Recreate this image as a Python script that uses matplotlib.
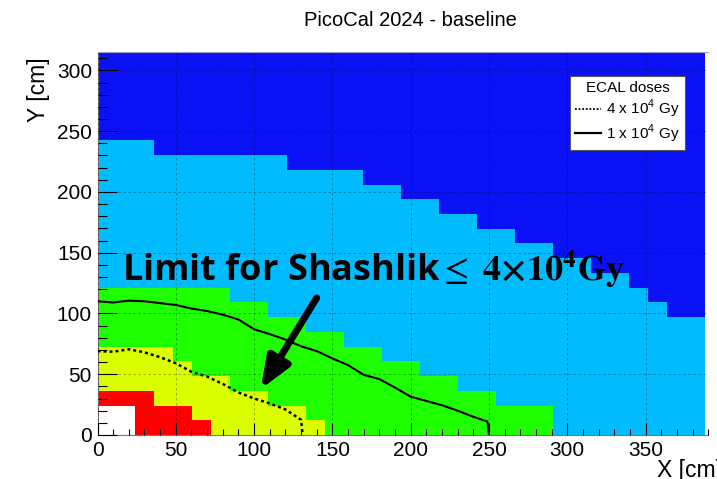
import numpy as np
import matplotlib
matplotlib.use("Agg")
import matplotlib.pyplot as plt
from matplotlib.colors import ListedColormap, BoundaryNorm
from matplotlib.lines import Line2D

plt.rcParams['font.family'] = ['Liberation Sans', 'DejaVu Sans']

# module size of the ECAL cells [cm]
cell = 12.12
n_cols, n_rows = 32, 26

# upper edge of every dose zone, per module column (in module units)
white_top  = [2, 2, 0, 0, 0, 0, 0, 0, 0, 0, 0, 0, 0, 0, 0, 0,
              0, 0, 0, 0, 0, 0, 0, 0, 0, 0, 0, 0, 0, 0, 0, 0]
red_top    = [3, 3, 3, 2, 2, 1, 0, 0, 0, 0, 0, 0, 0, 0, 0, 0,
              0, 0, 0, 0, 0, 0, 0, 0, 0, 0, 0, 0, 0, 0, 0, 0]
yellow_top = [6, 6, 6, 6, 5, 4, 4, 3, 3, 2, 2, 1, 0, 0, 0, 0,
              0, 0, 0, 0, 0, 0, 0, 0, 0, 0, 0, 0, 0, 0, 0, 0]
green_top  = [10, 10, 10, 10, 10, 10, 10, 9, 9, 8, 8, 7, 7, 6, 6, 5,
              5, 4, 4, 3, 3, 2, 2, 2, 0, 0, 0, 0, 0, 0, 0, 0]
lblue_top  = [20, 20, 20, 19, 19, 19, 19, 19, 19, 19, 18, 18, 18, 18, 17, 17,
              16, 16, 15, 15, 14, 14, 13, 13, 12, 12, 11, 11, 10, 9, 8, 8]
zone_colors = ['#ffffff', '#ff0000', '#dcff00', '#1eff00', '#00bcff', '#0a12f5']

# dose contours [cm]
x_4e4 = [0, 10, 20, 30, 40, 50, 60, 70, 80, 90, 100, 110, 120, 130, 131]
y_4e4 = [69, 68.5, 70.5, 68, 64, 59, 52, 48, 42, 35, 30, 26, 21, 12.5, 0]
x_1e4 = [0, 10, 20, 30, 40, 50, 60, 70, 80, 90, 100, 110, 120, 130, 140,
         150, 160, 170, 180, 190, 200, 210, 220, 230, 240, 249, 250]
y_1e4 = [110, 109, 110.5, 110, 108.5, 107, 104, 102, 99, 95, 87, 83, 78.5, 73, 69,
         63, 57.5, 49.5, 46, 39, 31.5, 28, 24.5, 20, 15, 11, 0]

x_ticks = [0, 50, 100, 150, 200, 250, 300, 350]
y_ticks = [0, 50, 100, 150, 200, 250, 300]

# build the zone map
tops = [white_top, red_top, yellow_top, green_top, lblue_top]
zone = np.full((n_rows, n_cols), len(tops))
for j in range(n_cols):
    for i in range(n_rows):
        for k, t in enumerate(tops):
            if i < t[j]:
                zone[i, j] = k
                break

fig = plt.figure(figsize=(7.17, 4.79), dpi=100)
ax = fig.add_axes([0.136, 0.0919, 0.8517, 0.7996])

xe = np.arange(n_cols + 1) * cell
ye = np.arange(n_rows + 1) * cell
cmap = ListedColormap(zone_colors)
norm = BoundaryNorm(np.arange(-0.5, len(zone_colors) + 0.5), cmap.N)
ax.pcolormesh(xe, ye, zone, cmap=cmap, norm=norm, zorder=1)

ax.plot(x_4e4, y_4e4, color='black', lw=1.8, linestyle=(0, (1.2, 1.2)), zorder=3)
ax.plot(x_1e4, y_1e4, color='black', lw=1.5, zorder=3)

ax.set_xlim(0, 390)
ax.set_ylim(0, n_rows * cell)
ax.set_xticks(x_ticks)
ax.set_yticks(y_ticks)
ax.set_xticks(np.arange(0, 391, 10), minor=True)
ax.set_yticks(np.arange(0, 316, 10), minor=True)
ax.grid(True, which='major', color='black', alpha=0.35, lw=0.6,
        linestyle=(0, (3, 3)), zorder=2)
ax.set_axisbelow(False)
ax.tick_params(axis='x', which='major', direction='in', length=9, width=0.8,
               labelsize=15, pad=4)
ax.tick_params(axis='x', which='minor', direction='in', length=4.3, width=0.8)
ax.tick_params(axis='y', which='major', direction='in', length=13.7, width=0.8,
               labelsize=15, pad=4)
ax.tick_params(axis='y', which='minor', direction='in', length=6.7, width=0.8)
for s in ['left', 'bottom']:
    ax.spines[s].set_color('#777777')
    ax.spines[s].set_linewidth(0.8)
ax.spines['right'].set_visible(False)
ax.spines['top'].set_color('#9aa0c8')
ax.spines['top'].set_linewidth(0.8)

handles = [Line2D([], [], color='black', lw=1.3, linestyle=(0, (1, 1))),
           Line2D([], [], color='black', lw=1.6)]
labels = [r'4 x 10$^{\mathregular{4}}$ Gy', r'1 x 10$^{\mathregular{4}}$ Gy']
leg = ax.legend(handles, labels, title='ECAL doses', loc='upper right',
                bbox_to_anchor=(0.962, 0.937), fontsize=11, title_fontsize=11,
                frameon=True, fancybox=False, framealpha=1, edgecolor='#555555',
                borderpad=0.35, handlelength=1.7, handletextpad=0.3,
                labelspacing=0.15, borderaxespad=0)
leg.get_frame().set_linewidth(0.8)
leg.set_zorder(5)

ax.text(15.5, 127, r'Limit for Shashlik${\leq}\ \mathbf{4{\times}10^{4}Gy}$',
        family='Open Sans', weight='bold', fontsize=26, math_fontfamily='stix',
        ha='left', va='baseline', zorder=6)
ax.annotate('', xy=(104.2, 37.7), xytext=(140, 112.8),
            arrowprops=dict(arrowstyle='-|>,head_length=1.9,head_width=0.75',
                            lw=5, color='black', shrinkA=0, shrinkB=0),
            zorder=6)

fig.text(0.572, 0.958, 'PicoCal 2024 - baseline', fontsize=14.5,
         ha='center', va='center')
fig.text(0.053, 0.881, 'Y [cm]', fontsize=16.5, rotation=90,
         ha='center', va='top')
fig.text(657 / 717, 0.0048, 'X [cm]', fontsize=16.5, ha='left', va='baseline')

fig.savefig('out.png', dpi=100)
